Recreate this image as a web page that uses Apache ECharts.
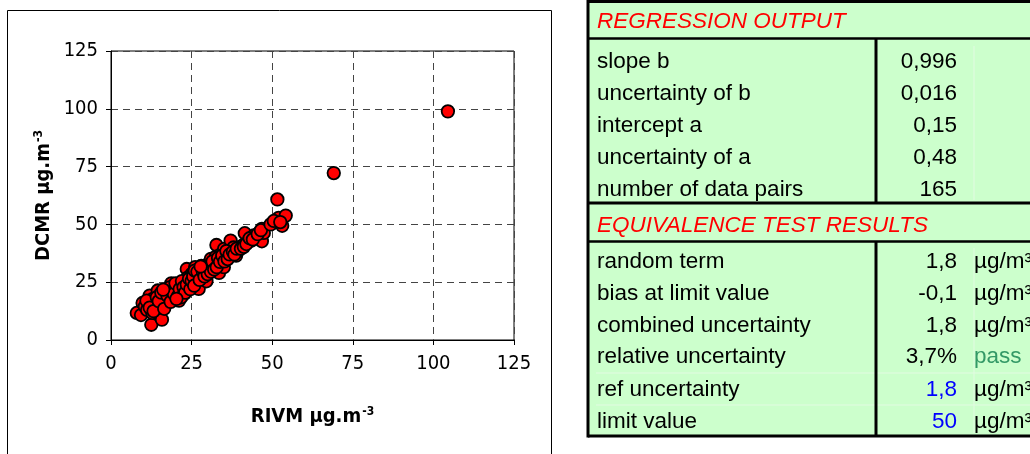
<!DOCTYPE html>
<html>
<head>
<meta charset="utf-8">
<script src="https://cdn.jsdelivr.net/npm/echarts@6/dist/echarts.min.js"></script>
<style>
html,body{margin:0;padding:0;background:#fff;}
#c{width:1030px;height:454px;}
</style>
</head>
<body>
<div id="c"></div>
<script>
// ---- data ----
const rivm = [
  8.0, 9.3, 9.8, 10.5, 11.2, 12.0, 12.5, 12.8, 12.3, 13.0,
  13.5, 14.0, 14.5, 15.1, 15.2, 15.8, 15.5, 16.0, 16.3, 16.8,
  17.0, 17.3, 17.8, 18.3, 18.7, 18.0, 19.0, 19.3, 19.6, 19.8,
  20.2, 20.5, 21.1, 21.0, 21.5, 22.0, 22.3, 22.7, 23.0, 23.3,
  23.5, 23.8, 24.0, 24.4, 24.8, 25.0, 25.3, 25.7, 26.1, 26.3,
  26.6, 27.0, 27.2, 27.2, 27.6, 28.0, 28.3, 28.7, 29.0, 29.6,
  29.8, 30.2, 30.6, 31.0, 31.3, 31.9, 32.2, 32.7, 32.5, 33.0,
  33.5, 33.5, 34.0, 34.3, 34.7, 35.1, 35.0, 35.5, 36.0, 36.5,
  37.1, 37.5, 38.0, 38.8, 39.3, 40.0, 40.6, 41.0, 41.5, 42.5,
  43.5, 44.3, 45.0, 46.0, 46.8, 46.8, 47.4, 50.0, 51.6, 52.0,
  53.1, 54.2, 69.1, 104.5,
  11.0, 12.0, 13.2, 14.2, 14.8, 15.6, 16.5, 17.5, 18.2, 18.5,
  19.0, 19.5, 20.0, 20.8, 21.3, 21.8, 22.0, 22.5, 23.0, 23.5,
  24.2, 24.6, 25.0, 25.5, 25.8, 26.0, 26.8, 27.5, 28.0, 28.5,
  29.0, 29.5, 30.0, 30.5, 31.0, 31.5, 32.0, 32.8, 33.2, 33.8,
  34.5, 35.2, 35.8, 36.2, 36.8, 37.8, 38.3, 39.0, 40.3, 41.2,
  42.0, 43.0, 44.0, 45.5, 46.5, 49.5, 50.5, 52.5, 16.2, 20.3,
  27.8
];
const dcmr = [
  11.7, 10.8, 16.0, 14.5, 13.0, 19.2, 6.6, 11.7, 16.5, 17.8,
  14.0, 15.5, 21.4, 14.9, 12.0, 8.8, 17.5, 16.0, 19.0, 20.5,
  15.5, 18.0, 21.8, 20.2, 24.5, 17.0, 19.5, 22.5, 23.8, 18.5,
  21.0, 22.8, 17.0, 20.0, 23.5, 21.5, 24.5, 19.9, 22.0, 25.5,
  30.7, 27.0, 23.0, 24.2, 26.0, 28.5, 24.8, 29.5, 31.5, 27.0,
  25.0, 22.5, 30.7, 22.1, 28.0, 28.9, 26.5, 31.0, 30.0, 25.4,
  32.5, 31.0, 33.5, 35.1, 30.0, 31.5, 33.0, 41.1, 36.0, 34.5,
  32.2, 29.0, 37.0, 35.5, 33.0, 39.4, 31.5, 37.5, 36.5, 38.0,
  43.0, 39.0, 40.0, 36.5, 38.5, 40.0, 40.6, 41.0, 46.2, 42.5,
  43.0, 45.2, 44.0, 46.5, 48.1, 42.7, 46.3, 50.5, 60.8, 52.8,
  49.4, 53.8, 72.2, 98.9,
  17.0, 14.0, 12.5, 18.5, 16.8, 20.5, 13.5, 19.2, 22.8, 16.5,
  21.0, 20.0, 24.5, 19.0, 22.0, 18.5, 25.5, 22.8, 20.5, 24.0,
  26.5, 22.0, 25.5, 27.5, 23.5, 30.0, 29.5, 26.0, 32.0, 29.5,
  27.5, 31.5, 28.5, 32.0, 29.5, 34.0, 30.5, 31.5, 35.5, 33.8,
  36.5, 34.0, 38.5, 35.0, 37.0, 38.2, 37.0, 39.5, 39.5, 40.3,
  41.5, 44.0, 43.5, 45.8, 47.5, 50.0, 51.5, 51.0, 21.8, 17.8,
  31.8
];
const axisTicks = [0, 25, 50, 75, 100, 125];
const xAxisTitle = 'RIVM µg.m';
const yAxisTitle = 'DCMR µg.m';
const unitExponent = '-3';

const regressionHeader = 'REGRESSION OUTPUT';
const regressionLabels = ['slope b', 'uncertainty of b', 'intercept a', 'uncertainty of a', 'number of data pairs'];
const regressionValues = ['0,996', '0,016', '0,15', '0,48', '165'];
const equivalenceHeader = 'EQUIVALENCE TEST RESULTS';
const equivalenceLabels = ['random term', 'bias at limit value', 'combined uncertainty', 'relative uncertainty', 'ref uncertainty', 'limit value'];
const equivalenceValues = ['1,8', '-0,1', '1,8', '3,7%', '1,8', '50'];
const equivalenceUnits = ['µg/m³', 'µg/m³', 'µg/m³', 'pass', 'µg/m³', 'µg/m³'];
const equivalenceValueKinds = ['calc', 'calc', 'calc', 'calc', 'input', 'input'];

// ---- build ----
const points = rivm.map((x, i) => [x, dcmr[i]]);
const narrow = '"Liberation Sans Narrow", "Arial Narrow", "DejaVu Sans Condensed", "Liberation Sans", sans-serif';
const tableFont = '"Liberation Sans", Arial, sans-serif';

const graphics = [];
// chart frame
graphics.push({type:'rect', z:-1, shape:{x:7.5, y:10.5, width:544, height:460}, style:{fill:'none', stroke:'#000', lineWidth:1}});

// table
const T = {left:588, top:1.5, right:1040, bottom:436, mid:876, h1:38.5, h2:203, h3:241.5};
graphics.push({type:'rect', shape:{x:T.left, y:T.top, width:T.right-T.left, height:T.bottom-T.top}, style:{fill:'#CCFFCC', stroke:'none'}});
// faint cell lines
graphics.push({type:'line', shape:{x1:974, y1:46, x2:974, y2:200}, style:{stroke:'#e2fbe2', lineWidth:1}});
graphics.push({type:'line', shape:{x1:974, y1:248, x2:974, y2:433}, style:{stroke:'#e2fbe2', lineWidth:1}});
[373, 405].forEach(y => {
  graphics.push({type:'line', shape:{x1:596, y1:y, x2:1030, y2:y}, style:{stroke:'#e2fbe2', lineWidth:1}});
});
const thick = (x1,y1,x2,y2,w) => graphics.push({type:'line', shape:{x1,y1,x2,y2}, style:{stroke:'#000', lineWidth:w}});
thick(T.left, T.top, 1040, T.top, 3);
thick(T.left, T.top-1.5, T.left, T.bottom+1.5, 3);
thick(T.left, T.bottom, 1040, T.bottom, 3);
thick(T.left, T.h1, 1040, T.h1, 2.5);
thick(T.left, T.h2, 1040, T.h2, 3);
thick(T.left, T.h3, 1040, T.h3, 2.5);
thick(T.mid, T.h1, T.mid, T.h2, 3);
thick(T.mid, T.h3, T.mid, T.bottom, 3);

const txt = (text, x, y, fill, align, italic) => graphics.push({
  type:'text', x, y, z:10,
  style:{text, fill, align, verticalAlign:'middle', font:(italic?'italic ':'') + '22.5px ' + tableFont}
});
txt(regressionHeader, 597, 22, '#FF0000', 'left', true);
const regRows = [62, 94, 126, 158, 190];
regressionLabels.forEach((l, i) => {
  txt(l, 597, regRows[i], '#000', 'left');
  txt(regressionValues[i], 957, regRows[i], '#000', 'right');
});
txt(equivalenceHeader, 597, 226, '#FF0000', 'left', true);
const eqRows = [262, 294, 326, 357, 390, 422];
equivalenceLabels.forEach((l, i) => {
  txt(l, 597, eqRows[i], '#000', 'left');
  txt(equivalenceValues[i], 957, eqRows[i], equivalenceValueKinds[i] === 'input' ? '#0000FF' : '#000', 'right');
  const u = equivalenceUnits[i];
  txt(u, 974, eqRows[i], u === 'pass' ? '#339966' : '#000', 'left');
});

const axisLabelStyle = {fontFamily: narrow, fontSize: 20, color: '#000'};
const nameRich = {
  a:{fontFamily: narrow, fontSize: 20, fontWeight:'bold', color:'#000'},
  s:{fontFamily: narrow, fontSize: 12, fontWeight:'bold', color:'#000', verticalAlign:'top', padding:[0,0,9,1]}
};

const chart = echarts.init(document.getElementById('c'), null, {renderer:'canvas'});
chart.setOption({
  animation:false,
  backgroundColor:'#fff',
  grid:{left:111, right:516, top:51, bottom:114, show:true, borderColor:'#000', borderWidth:1, backgroundColor:'transparent'},
  xAxis:{
    type:'value', min:axisTicks[0], max:axisTicks[axisTicks.length-1], interval:25,
    axisLine:{lineStyle:{color:'#000', width:1}},
    axisTick:{show:true, inside:false, length:5, lineStyle:{color:'#000'}},
    axisLabel:{...axisLabelStyle, margin:14},
    splitLine:{show:true, lineStyle:{color:'#444', type:[7,5], width:1}},
    name:'{a|' + xAxisTitle + '}{s|' + unitExponent + '}', nameLocation:'middle', nameGap:66,
    nameTextStyle:{rich:nameRich}
  },
  yAxis:{
    type:'value', min:axisTicks[0], max:axisTicks[axisTicks.length-1], interval:25,
    axisLine:{show:true, lineStyle:{color:'#000', width:1}},
    axisTick:{show:true, inside:false, length:5, lineStyle:{color:'#000'}},
    axisLabel:{...axisLabelStyle, margin:13},
    splitLine:{show:true, lineStyle:{color:'#444', type:[7,5], width:1}},
    name:'{a|' + yAxisTitle + '}{s|' + unitExponent + '}', nameLocation:'middle', nameGap:57, nameRotate:90,
    nameTextStyle:{rich:nameRich}
  },
  series:[{
    type:'scatter', data:points, symbol:'circle', symbolSize:12.5,
    itemStyle:{color:'#FF0000', borderColor:'#000', borderWidth:1.8, opacity:1}
  }],
  graphic:graphics
});
</script>
</body>
</html>
